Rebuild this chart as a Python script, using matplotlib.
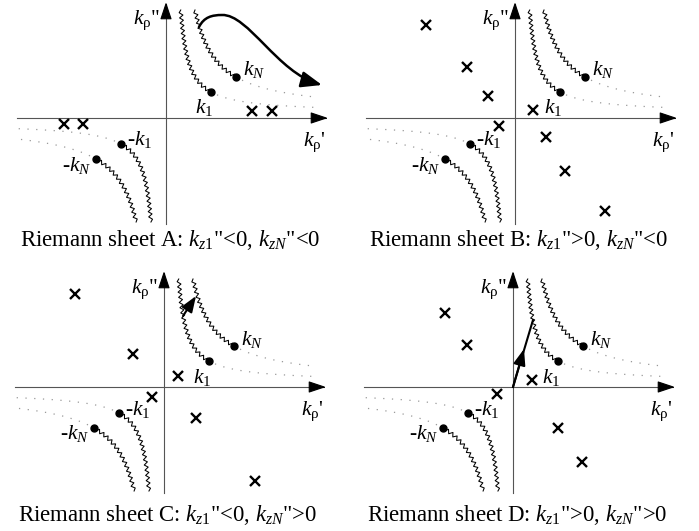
import numpy as np
import matplotlib
matplotlib.use('Agg')
import matplotlib.pyplot as plt
from matplotlib.patches import FancyArrowPatch
from matplotlib.path import Path

plt.rcParams['font.family'] = ['Liberation Serif', 'DejaVu Serif']
plt.rcParams['mathtext.fontset'] = 'custom'
plt.rcParams['mathtext.rm'] = 'Liberation Serif'
plt.rcParams['mathtext.it'] = 'Liberation Serif:italic'

W, H = 699, 531

# ---- data (pixel-scale units relative to the axis crossing) ----
sheets = ['A', 'B', 'C', 'D']
captions = ['Riemann sheet A: $k_{z1}$"<0, $k_{zN}$"<0',
            'Riemann sheet B: $k_{z1}$">0, $k_{zN}$"<0',
            'Riemann sheet C: $k_{z1}$"<0, $k_{zN}$">0',
            'Riemann sheet D: $k_{z1}$">0, $k_{zN}$">0']
k1 = (45, 26)
kN = (70, 41)
poles_A = [(86, 7), (106, 7), (-102, -6), (-83, -6)]
poles_B = [(-89, 93), (-48, 51), (-27, 22), (18, 8), (-16, -8), (31, -19), (50, -53), (90, -93)]
poles_C = [(-89, 93), (-31, 33), (14, 11), (-12, -10), (32, -31), (91, -94)]
poles_D = [(-68, 74), (-46, 42), (19, 7), (-16, -7), (45, -41), (69, -75)]
poles = [poles_A, poles_B, poles_C, poles_D]

origins = [(166, 118), (515, 118), (164, 387), (513, 387)]
panel_boxes = [(0, 349, 0, 265), (349, 699, 0, 265), (0, 349, 265, 531), (349, 699, 265, 531)]
caption_y = [-122, -122, -128, -128]

fig = plt.figure(figsize=(W / 100, H / 100), dpi=100)

ASY_A, ASY_B = 7.0, 5.0  # asymptote shift of the cut hyperbolas


def zigzag(xs, ys, amp=1.8, half=2.6):
    dx = np.diff(xs); dy = np.diff(ys)
    s = np.concatenate([[0], np.cumsum(np.hypot(dx, dy))])
    n = int(s[-1] / half)
    sk = np.linspace(0, s[-1], n + 1)
    px = np.interp(sk, s, xs); py = np.interp(sk, s, ys)
    tx = np.gradient(px); ty = np.gradient(py)
    nrm = np.hypot(tx, ty)
    nx, ny = -ty / nrm, tx / nrm
    sign = np.where(np.arange(n + 1) % 2 == 0, 1.0, -1.0)
    sign[0] = 0; sign[-1] = 0
    return px + amp * sign * nx, py + amp * sign * ny


def draw_cut(ax, p, sgn):
    x0, y0 = p
    c = (x0 - ASY_A) * (y0 - ASY_B)
    yend = 108 if sgn > 0 else 104
    yy = np.linspace(y0, yend, 300)
    xx = ASY_A + c / (yy - ASY_B)
    zx, zy = zigzag(sgn * xx, sgn * yy)
    ax.plot(zx, zy, color='black', lw=0.75, zorder=3)
    xx2 = np.linspace(x0 + 6, 149, 200)
    yy2 = ASY_B + c / (xx2 - ASY_A)
    ax.plot(sgn * xx2, sgn * yy2, color='#999999', lw=0.9,
            linestyle=(0, (1, 6)), zorder=2)
    ax.plot([sgn * x0], [sgn * y0], 'o', color='black', ms=5, zorder=4)


def arrow(ax, verts, codes=None, lw=1.0, ms=12, hl=0.7, hw=0.3):
    if codes is None:
        codes = [Path.MOVETO] + [Path.LINETO] * (len(verts) - 1)
    pa = FancyArrowPatch(path=Path(verts, codes),
                         arrowstyle=f'-|>,head_length={hl},head_width={hw}',
                         mutation_scale=ms, color='black', lw=lw, zorder=5)
    ax.add_patch(pa)


for i, s in enumerate(sheets):
    ox, oy = origins[i]
    x0, x1, y0, y1 = panel_boxes[i]
    ax = fig.add_axes([x0 / W, (H - y1) / H, (x1 - x0) / W, (y1 - y0) / H])
    ax.set_xlim(x0 - ox, x1 - ox)
    ax.set_ylim(oy - y1, oy - y0)
    ax.axis('off')

    # axes
    ax.plot([-149, 155], [0, 0], color='#555555', lw=0.8, zorder=1)
    ax.plot([0, 0], [-106, 110], color='#555555', lw=0.8, zorder=1)
    arrow(ax, [(150, 0), (162, 0)], lw=0.8, ms=12, hl=0.9, hw=0.3)
    arrow(ax, [(0, 105), (0, 116)], lw=0.8, ms=12, hl=0.9, hw=0.3)

    # branch points and cuts
    draw_cut(ax, k1, 1)
    draw_cut(ax, kN, 1)
    draw_cut(ax, k1, -1)
    draw_cut(ax, kN, -1)

    # poles
    px = [p[0] for p in poles[i]]; py = [p[1] for p in poles[i]]
    ax.plot(px, py, 'x', color='black', ms=7, mew=1.7, zorder=4)

    # labels
    fs = 15.5
    ax.text(-6, 98, r'$k_\mathrm{\rho}$"', fontsize=fs, ha='right', va='center')
    ax.text(137, -24, r"$k_\mathrm{\rho}$'", fontsize=fs, ha='left', va='center')
    ax.text(77, 48, r'$k_N$', fontsize=fs, ha='left', va='center')
    ax.text(29, 10, r'$k_1$', fontsize=fs, ha='left', va='center')
    ax.text(-39, -22, r'-$k_1$', fontsize=fs, ha='left', va='center')
    ax.text(-104, -47, r'-$k_N$', fontsize=fs, ha='left', va='center')

    ax.text(4, caption_y[i], captions[i], fontsize=16.4, ha='center', va='center')

    if s == 'A':
        verts = [(33, 91), (38, 101), (46, 103), (56, 103),
                 (82, 104), (112, 45), (156, 33)]
        codes = [Path.MOVETO, Path.CURVE4, Path.CURVE4, Path.CURVE4,
                 Path.CURVE4, Path.CURVE4, Path.CURVE4]
        arrow(ax, verts, codes, lw=1.8, ms=14, hl=0.9, hw=0.35)
    elif s == 'C':
        arrow(ax, [(19, 71), (32, 91)], lw=1.5, ms=12, hl=0.8, hw=0.3)
    elif s == 'D':
        ax.plot([0, 20], [0, 67], color='black', lw=1.5, zorder=5)
        arrow(ax, [(0, 0), (11, 38)], lw=1.5, ms=12, hl=0.8, hw=0.3)

fig.savefig('out.png', dpi=100)
